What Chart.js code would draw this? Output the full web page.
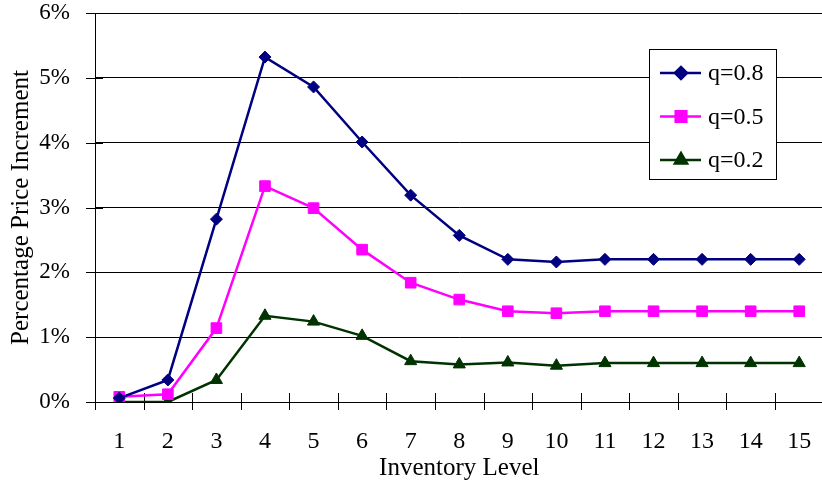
<!DOCTYPE html>
<html>
<head>
<meta charset="utf-8">
<script src="https://cdn.jsdelivr.net/npm/chart.js@4.4.1/dist/chart.umd.min.js"></script>
<style>
  html, body { margin: 0; padding: 0; background: #fff; overflow: hidden; }
  .wrap { width: 832px; height: 485px; }
</style>
</head>
<body>
<div class="wrap">
  <canvas id="chart" width="832" height="485"></canvas>
</div>
<script>
const inventoryLevels = ['1','2','3','4','5','6','7','8','9','10','11','12','13','14','15']
const q08 = [0.06, 0.34, 2.82, 5.32, 4.86, 4.01, 3.19, 2.57, 2.20, 2.16, 2.20, 2.20, 2.20, 2.20, 2.20]
const q05 = [0.08, 0.12, 1.14, 3.33, 2.99, 2.35, 1.84, 1.58, 1.40, 1.37, 1.40, 1.40, 1.40, 1.40, 1.40]
const q02 = [0.00, 0.00, 0.34, 1.33, 1.24, 1.02, 0.63, 0.58, 0.61, 0.56, 0.60, 0.60, 0.60, 0.60, 0.60]
const yTicks = [0, 1, 2, 3, 4, 5, 6]

const serif = "'Liberation Serif', 'Times New Roman', serif"

// tick marks that cross the axis lines, like the old spreadsheet look
const crossTicks = {
    id: 'crossTicks',
    beforeDatasetsDraw(chart) {
        const ctx = chart.ctx
        const x = chart.scales.x
        const y = chart.scales.y
        ctx.save()
        ctx.strokeStyle = '#000'
        ctx.lineWidth = 1
        ctx.beginPath()
        yTicks.forEach(v => {
            const py = Math.round(y.getPixelForValue(v)) + 0.5
            ctx.moveTo(x.left - 9, py)
            ctx.lineTo(x.left + 8, py)
        })
        const step = x.getPixelForValue(1) - x.getPixelForValue(0)
        for (let i = 0; i <= inventoryLevels.length; i++) {
            const px = Math.round(x.getPixelForValue(i) - step / 2) + 0.5
            ctx.moveTo(px, y.bottom - 9)
            ctx.lineTo(px, y.bottom + 8)
        }
        ctx.stroke()
        ctx.restore()
    }
}

// boxed legend sitting inside the plot, top right
const boxLegend = {
    id: 'boxLegend',
    afterDraw(chart) {
        const ctx = chart.ctx
        const area = chart.chartArea
        const left = area.left + 554
        const top = area.top + 36
        const w = 127, h = 130
        ctx.save()
        ctx.fillStyle = '#fff'
        ctx.fillRect(left, top, w, h)
        ctx.strokeStyle = '#000'
        ctx.lineWidth = 1
        ctx.strokeRect(left + 0.5, top + 0.5, w, h)
        chart.data.datasets.forEach((ds, i) => {
            const cy = top + 24 + i * 43.5
            ctx.strokeStyle = ds.borderColor
            ctx.lineWidth = 2.5
            ctx.beginPath()
            ctx.moveTo(left + 11, cy)
            ctx.lineTo(left + 52, cy)
            ctx.stroke()
            Chart.helpers.drawPoint(ctx, {
                pointStyle: ds.pointStyle,
                radius: ds.pointRadius,
                borderWidth: 1
            }, left + 32, cy)
            ctx.fillStyle = ds.borderColor
            ctx.fill()
            ctx.fillStyle = '#000'
            ctx.font = '24px ' + serif
            ctx.textBaseline = 'middle'
            ctx.fillText(ds.label, left + 59, cy + 1)
        })
        ctx.restore()
    }
}

new Chart(document.getElementById('chart').getContext('2d'), {
    type: 'line',
    data: {
        labels: inventoryLevels,
        datasets: [
            {
                label: 'q=0.8',
                data: q08,
                borderColor: '#000080',
                backgroundColor: '#000080',
                borderWidth: 2.5,
                pointStyle: 'rectRot',
                pointRadius: 6,
                pointBorderWidth: 1
            },
            {
                label: 'q=0.5',
                data: q05,
                borderColor: '#ff00ff',
                backgroundColor: '#ff00ff',
                borderWidth: 2.5,
                pointStyle: 'rect',
                pointRadius: 7.5,
                pointBorderWidth: 1
            },
            {
                label: 'q=0.2',
                data: q02,
                borderColor: '#003300',
                backgroundColor: '#003300',
                borderWidth: 2.5,
                pointStyle: 'triangle',
                pointRadius: 7,
                pointBorderWidth: 1
            }
        ]
    },
    options: {
        responsive: false,
        animation: false,
        layout: { padding: { top: 13, right: 1.5, left: 0, bottom: 0 } },
        plugins: {
            legend: { display: false },
            tooltip: { enabled: false }
        },
        scales: {
            x: {
                offset: true,
                grid: { display: false, drawTicks: false },
                border: { display: true, color: '#000', width: 1 },
                ticks: {
                    color: '#000',
                    padding: 25,
                    maxRotation: 0,
                    autoSkip: false,
                    font: { family: serif, size: 24 }
                },
                title: {
                    display: true,
                    text: 'Inventory Level',
                    color: '#000',
                    padding: { top: 0, bottom: 2 },
                    font: { family: serif, size: 25 }
                },
                afterFit: axis => {
                    axis.height = 83
                    axis.paddingLeft = 0
                    axis.paddingRight = 0
                }
            },
            y: {
                min: 0,
                max: 6,
                afterBuildTicks: axis => { axis.ticks = yTicks.map(v => ({ value: v })) },
                grid: { color: '#000', lineWidth: 1, drawTicks: false },
                border: { display: true, color: '#000', width: 1 },
                ticks: {
                    color: '#000',
                    padding: 25,
                    font: { family: serif, size: 23 },
                    callback: v => v + '%'
                },
                title: {
                    display: true,
                    text: 'Percentage Price Increment',
                    color: '#000',
                    padding: { top: 6, bottom: 0 },
                    font: { family: serif, size: 25 }
                },
                afterFit: axis => {
                    axis.width = 95
                    axis.paddingTop = 0
                    axis.paddingBottom = 0
                }
            }
        }
    },
    plugins: [crossTicks, boxLegend]
})
</script>
</body>
</html>
